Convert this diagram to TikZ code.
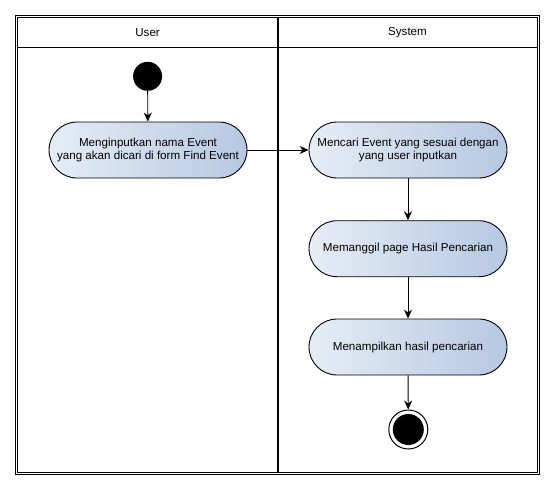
\documentclass[tikz,border=0pt]{standalone}
\usepackage{fontspec}
\setmainfont{Liberation Sans}
\usetikzlibrary{arrows.meta}
\definecolor{actL}{HTML}{E6EDF6}
\definecolor{actR}{HTML}{B6C8E2}
\tikzset{
  activity/.style={draw=black, line width=0.9pt, rectangle, rounded corners=28pt,
    minimum width=198pt, minimum height=56pt, inner sep=1pt, align=center,
    left color=actL, right color=actR,
    font=\fontsize{11.6}{13.4}\selectfont},
  flow/.style={draw=black, line width=0.9pt, -{Stealth[length=9pt,width=8pt]}},
  lanehead/.style={font=\fontsize{11.6}{13.4}\selectfont},
  startnode/.style={circle, fill=black, minimum size=29pt, inner sep=0pt},
  endouter/.style={circle, draw=black, line width=1pt, fill=white, minimum size=39pt, inner sep=0pt},
  endinner/.style={circle, fill=black, minimum size=31pt, inner sep=0pt}
}
\begin{document}
\begin{tikzpicture}[x=1pt,y=-1pt]
\useasboundingbox (0,0) rectangle (555,490);
% frame
\draw[line width=1pt] (15.5,15.5) rectangle (539.3,474.3);
\draw[line width=1pt] (17.5,17.5) rectangle (537.3,472.3);
\draw[line width=1pt] (17.5,47.7) -- (537.3,47.7);
\draw[line width=2.2pt] (277.7,17.5) -- (277.7,472.3);
\node[lanehead] (huser) at (147.6,32.5) {User};
\node[lanehead] (hsys) at (407.5,32.5) {System};
% nodes
\node[startnode] (start) at (147.6,76.3) {};
\node[activity] (a1) at (148,150) {Menginputkan nama Event\\yang akan dicari di form Find Event};
\node[activity] (a2) at (408,150) {Mencari Event yang sesuai dengan\\yang user inputkan};
\node[activity] (a3) at (408,248.7) {Memanggil page Hasil Pencarian};
\node[activity] (a4) at (408,347) {Menampilkan hasil pencarian};
\node[endouter] (endo) at (408.3,429.5) {};
\node[endinner] (endi) at (408.3,429.5) {};
% flows
\draw[flow] (start) -- (a1);
\draw[flow] (a1) -- (a2);
\draw[flow] (a2) -- (a3);
\draw[flow] (a3) -- (a4);
\draw[flow] (a4) -- (endo);
\end{tikzpicture}
\end{document}
